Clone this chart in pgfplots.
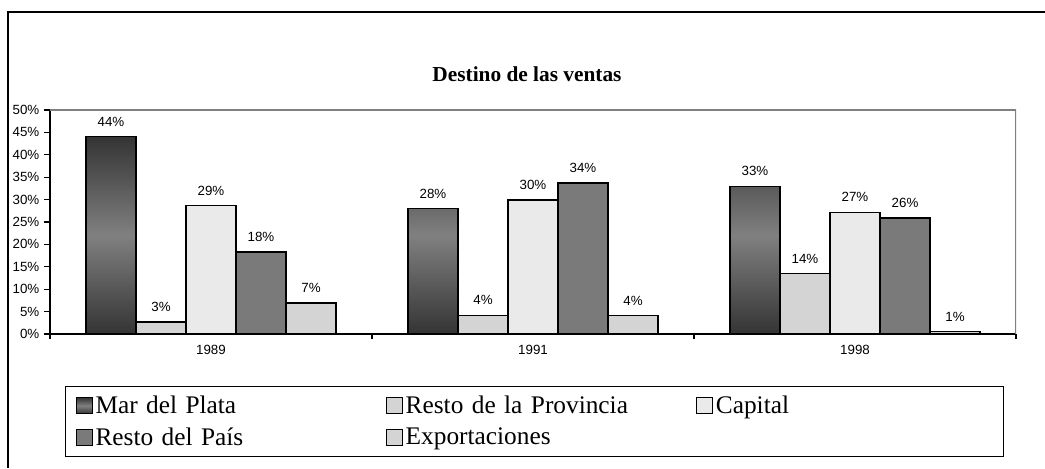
\documentclass[border=0pt]{standalone}
\usepackage{pgfplots}
\pgfplotsset{compat=1.18}
\usepackage{fontspec}
\setmainfont{Liberation Serif}
\setsansfont{Liberation Sans}

\definecolor{mdpdark}{RGB}{52,52,52}
\definecolor{mdpmid}{RGB}{128,128,128}
\definecolor{provgray}{RGB}{212,212,212}
\definecolor{capgray}{RGB}{234,234,234}
\definecolor{paisgray}{RGB}{122,122,122}
\definecolor{expgray}{RGB}{212,212,212}
\definecolor{framegray}{RGB}{128,128,128}

\pgfplotsset{
  sqlegend/.style={legend image code/.code={\draw[##1, line width=0.9pt] (0pt,-6pt) rectangle (12pt,6pt);}},
}

\begin{document}
\begin{tikzpicture}[x=0.75pt,y=0.75pt]
\useasboundingbox (0,0) rectangle (1045,468);
\draw[line width=1pt] (8,0) -- (8,456) -- (1045,456);
\node[font=\fontsize{16}{18}\selectfont\bfseries] at (527,394) {Destino de las ventas};
\begin{axis}[
  at={(37.5pt,100.5pt)}, anchor=south west,
  scale only axis, width=724.5pt, height=168pt,
  ybar=0pt, bar width=0.1553,
  xmin=-0.5, xmax=2.5, ymin=0, ymax=50,
  xtick={0,1,2}, xticklabels={1989,1991,1998},
  minor xtick={-0.5,0.5,1.5,2.5},
  major x tick style={draw=none},
  ytick={0,5,...,50},
  yticklabel={\pgfmathprintnumber{\tick}\%},
  /pgf/number format/assume math mode=true,
  tick align=outside, major tick length=4.5pt, minor tick length=4pt,
  tick style={black, line width=0.9pt},
  axis x line*=bottom, axis y line*=left,
  axis line style={line width=0.9pt},
  ticklabel style={font=\fontsize{10}{11}\selectfont\sffamily},
  nodes near coords,
  point meta=explicit symbolic,
  nodes near coords style={font=\fontsize{10}{11}\selectfont\sffamily, anchor=south, yshift=4pt},
  legend columns=3,
  legend cell align=left,
  legend style={
    at={(axis description cs:0.0155,-0.232)}, anchor=north west,
    draw=black, line width=1pt, inner xsep=7.5pt, inner ysep=5pt,
    font=\fontsize{19}{21}\selectfont,
    nodes={inner sep=2pt, text width=206pt, align=left},
    /tikz/every even column/.append style={column sep=9.75pt},
    row sep=5pt,
  },
]
\addplot[draw=black, line width=0.9pt, top color=mdpdark, bottom color=mdpdark, middle color=mdpmid, sqlegend]
  coordinates {(0,44) [44\%] (1,28) [28\%] (2,33) [33\%]};
\addplot[draw=black, line width=0.9pt, fill=provgray, sqlegend]
  coordinates {(0,2.7) [3\%] (1,4.2) [4\%] (2,13.5) [14\%]};
\addplot[draw=black, line width=0.9pt, fill=capgray, sqlegend]
  coordinates {(0,28.6) [29\%] (1,29.9) [30\%] (2,27.2) [27\%]};
\addplot[draw=black, line width=0.9pt, fill=paisgray, sqlegend]
  coordinates {(0,18.3) [18\%] (1,33.7) [34\%] (2,25.9) [26\%]};
\addplot[draw=black, line width=0.9pt, fill=expgray, sqlegend]
  coordinates {(0,6.9) [7\%] (1,4.1) [4\%] (2,0.5) [1\%]};
\legend{Mar del Plata, Resto de la Provincia, Capital, Resto del País, Exportaciones}
\draw[framegray, line width=0.9pt] (rel axis cs:0,1) -- (rel axis cs:1,1) -- (rel axis cs:1,0);
\end{axis}
\end{tikzpicture}
\end{document}
